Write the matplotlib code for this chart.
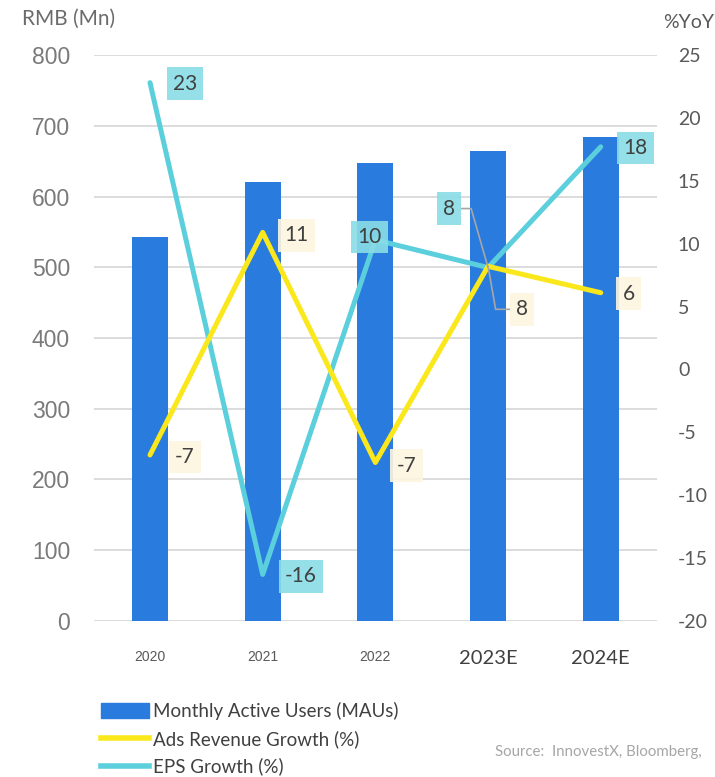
import numpy as np
import matplotlib.pyplot as plt
from matplotlib.patches import Patch
from matplotlib.lines import Line2D

years = ["2020", "2021", "2022", "2023E", "2024E"]
mau = [543, 620, 647, 664, 684]
ads_growth = [-6.8, 10.9, -7.4, 8.2, 6.1]
eps_growth = [22.8, -16.3, 10.3, 8.1, 17.7]
ads_labels = ["-7", "11", "-7", "8", "6"]
eps_labels = ["23", "-16", "10", "8", "18"]

bar_col = "#2a7bde"
yel = "#fae81c"
cyan = "#5ccfdd"
txt = "#404040"
grey = "#595959"

plt.rcParams["font.family"] = ["Lato", "DejaVu Sans"]
plt.rcParams["axes.unicode_minus"] = False

fig = plt.figure(figsize=(7.15, 7.77), dpi=100)
ax = fig.add_axes([0.131, 0.2008, 0.788, 0.7284])
x = np.arange(len(years))

ax.bar(x, mau, width=0.32, color=bar_col, zorder=2)
ax.set_xlim(-0.5, 4.5)
ax.set_ylim(0, 800)
ax.set_yticks(range(0, 801, 100))
ax.grid(axis="y", color="#d9d9d9", lw=1.3, zorder=0)
ax.set_axisbelow(True)
for s in ax.spines.values():
    s.set_visible(False)
ax.tick_params(axis="y", length=0, pad=17, labelsize=16.5, labelcolor="#7a7a7a")
for lab in ax.get_yticklabels():
    lab.set_family(["Liberation Sans", "DejaVu Sans"])
ax.tick_params(axis="x", length=0, pad=21)
ax.set_xticks(x)
ax.set_xticklabels(years)
for i, lab in enumerate(ax.get_xticklabels()):
    if i < 3:
        lab.set_family(["Liberation Sans", "DejaVu Sans"])
        lab.set_fontsize(10)
        lab.set_color(grey)
    else:
        lab.set_fontsize(14.5)
        lab.set_color(txt)

ax2 = ax.twinx()
ax2.set_ylim(-20, 25)
ax2.set_yticks(range(-20, 26, 5))
for s in ax2.spines.values():
    s.set_visible(False)
ax2.tick_params(axis="y", length=0, pad=15, labelsize=14, labelcolor=grey)

ax2.plot(x, eps_growth, color=cyan, lw=3.6, solid_capstyle="round", zorder=3)
ax2.plot(x, ads_growth, color=yel, lw=3.6, solid_capstyle="round", zorder=3)

# data labels: (dx, dy) offsets in pixels
eps_off = [(35, -1), (38, -2), (-6, 3), (-39, 59), (35, -1)]
ads_off = [(35, -2), (34, -3), (31, -3), (34, -43), (28, -1)]
eps_ang = [None, None, None, 106, None]
ads_ang = [None, None, None, -80, None]

def put_labels(vals, labs, offs, angs, fc):
    for i in range(len(vals)):
        kw = {}
        if angs[i] is not None:
            kw["arrowprops"] = dict(arrowstyle="-", color="#a6a6a6", lw=1.2,
                                    shrinkA=0, shrinkB=0,
                                    connectionstyle="angle,angleA=0,angleB=%d,rad=0" % angs[i])
        ax2.annotate(labs[i], (x[i], vals[i]), xytext=offs[i], textcoords="offset pixels",
                     ha="center", va="center", fontsize=15, color=txt, zorder=5,
                     bbox=dict(boxstyle="square,pad=0.3", fc=fc, ec="none", alpha=0.9), **kw)

put_labels(eps_growth, eps_labels, eps_off, eps_ang, "#8adde6")
put_labels(ads_growth, ads_labels, ads_off, ads_ang, "#fdf5e0")

fig.text(22 / 715, 1 - 19 / 777, "RMB (Mn)", fontsize=15, color="#6b6b6b", va="center")
fig.text(663 / 715, 1 - 22 / 777, "%YoY", fontsize=14, color=grey, va="center")
fig.text(495 / 715, 1 - 752 / 777, "Source:  InnovestX, Bloomberg,", fontsize=10.8,
         color="#a6a6a6", va="center")

handles = [Patch(color=bar_col), Line2D([], [], color=yel, lw=4), Line2D([], [], color=cyan, lw=4)]
names = ["Monthly Active Users (MAUs)", "Ads Revenue Growth (%)", "EPS Growth (%)"]
fig.legend(handles, names, loc="upper left", bbox_to_anchor=(101 / 715, 1 - 702 / 777),
           frameon=False, fontsize=13.5, labelcolor=txt, handlelength=2.55, handleheight=0.8,
           handletextpad=0.2, labelspacing=0.52, borderpad=0, borderaxespad=0)

fig.savefig("out.png", dpi=100)
